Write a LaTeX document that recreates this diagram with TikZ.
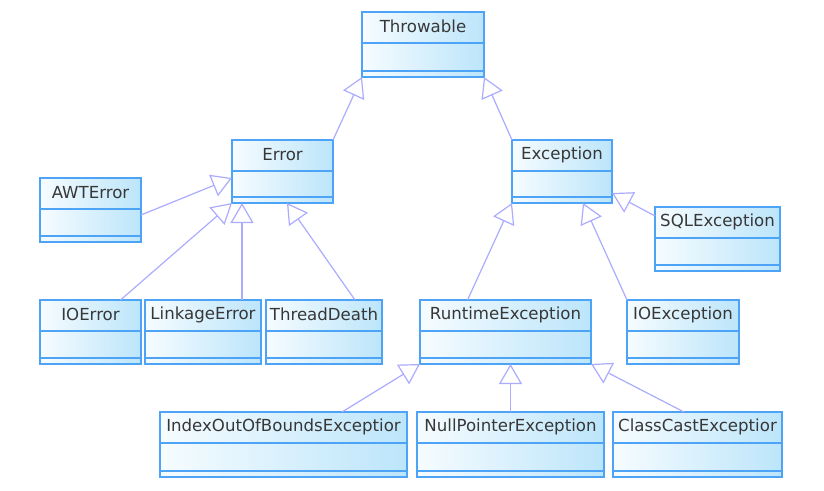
\documentclass[tikz,border=0pt]{standalone}
\usepackage{fontspec}
\setmainfont{DejaVu Sans}
\usetikzlibrary{arrows.meta,calc}
\definecolor{bordc}{RGB}{77,163,245}
\definecolor{fillA}{RGB}{246,252,255}
\definecolor{fillB}{RGB}{188,229,250}
\definecolor{linec}{RGB}{172,172,255}
\definecolor{txtc}{RGB}{55,55,55}
\tikzset{
  umlbox/.style={draw=bordc, line width=1.1pt, rectangle, inner sep=0pt, outer sep=0pt,
    anchor=north west, left color=fillA, right color=fillB},
  divline/.style={draw=bordc, line width=1.1pt},
  umllabel/.style={text=txtc, font=\fontsize{16.6}{19}\selectfont, inner sep=0pt},
  inh/.style={draw=linec, line width=1.2pt,
    -{Triangle[open, length=20pt, width=23pt, line width=1.2pt]}},
}
\newcommand\UmlClass[6]{%
  \node[umlbox, minimum width={#4-#2}, minimum height={#5-#3}] (#1) at (#2,#3) {};
  \draw[divline] ([yshift=-31pt]#1.north west) -- ([yshift=-31pt]#1.north east);
  \draw[divline] ([yshift=6pt]#1.south west) -- ([yshift=6pt]#1.south east);
  \node[umllabel] (#1-t) at ([yshift=-14.5pt]#1.north) {#6};
}
\begin{document}
\begin{tikzpicture}[x=1pt, y=-1pt]
\useasboundingbox[fill=white] (0,0) rectangle (824,490);
\UmlClass{thr}{362}{12}{484}{77}{Throwable}
\UmlClass{err}{232}{140}{333}{203}{Error}
\UmlClass{exc}{512}{140}{612}{203}{Exception}
\UmlClass{awt}{40}{178}{141}{242}{AWTError}
\UmlClass{sql}{655}{207}{780}{271}{SQLException}
\UmlClass{ioe}{40}{300}{141}{364}{IOError}
\UmlClass{link}{145}{300}{261}{364}{LinkageError}
\UmlClass{td}{266}{300}{382}{364}{ThreadDeath}
\UmlClass{rt}{420}{300}{591}{364}{RuntimeException}
\UmlClass{ioex}{627}{300}{739}{364}{IOException}
\UmlClass{ioob}{160}{412}{407}{477}{IndexOutOfBoundsExceptior}
\UmlClass{npe}{417}{412}{604}{477}{NullPointerException}
\UmlClass{cce}{613}{412}{782}{477}{ClassCastExceptior}

% Throwable
\draw[inh] (err.north east) -- (thr.south west);
\draw[inh] (exc.north west) -- (thr.south east);
% Error
\coordinate (awtP) at ([yshift=-37pt]awt.north east);
\coordinate (errL) at ([yshift=-38pt]err.north west);
\draw[inh] (awtP) -- (errL);
\coordinate (ioeP) at ([xshift=30pt]ioe.north);
\draw[inh] (ioeP) -- (err.south west);
\coordinate (lk) at ([xshift=10pt]err.south west);
\draw[inh] (link.north -| lk) -- (lk);
\coordinate (tdP) at ([xshift=-27pt]td.north east);
\coordinate (errB) at ([xshift=55pt]err.south west);
\draw[inh] (tdP) -- (errB);
% Exception
\coordinate (rtP) at ([xshift=-38pt]rt.north);
\draw[inh] (rtP) -- (exc.south west);
\coordinate (excB) at ([xshift=-29pt]exc.south east);
\draw[inh] (ioex.north west) -- (excB);
\coordinate (sqlP) at ([yshift=-9pt]sql.north west);
\coordinate (excR) at ([yshift=10pt]exc.south east);
\draw[inh] (sqlP) -- (excR);
% RuntimeException
\coordinate (ioobP) at ([xshift=-65pt]ioob.north east);
\draw[inh] (ioobP) -- (rt.south west);
\draw[inh] (npe.north) -- (npe.north |- rt.south);
\coordinate (cceP) at ([xshift=71pt]cce.north west);
\draw[inh] (cceP) -- (rt.south east);
\end{tikzpicture}
\end{document}
